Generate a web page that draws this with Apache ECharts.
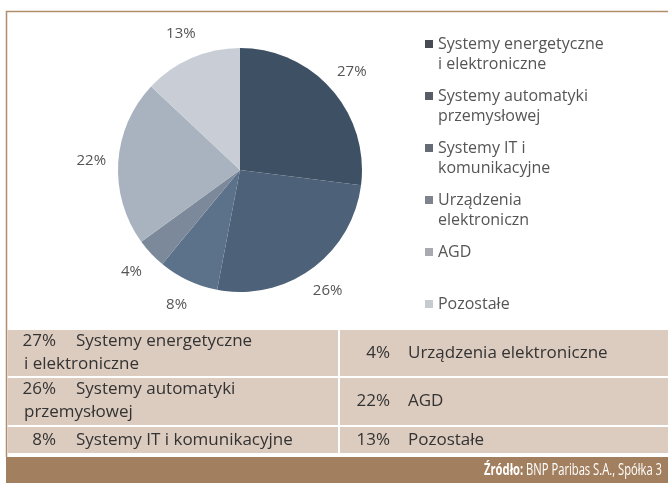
<!DOCTYPE html>
<html>
<head>
<meta charset="utf-8">
<script src="https://cdn.jsdelivr.net/npm/echarts@6/dist/echarts.min.js"></script>
<style>
  html, body { margin: 0; padding: 0; background: #fff; }
  #chart { width: 668px; height: 483px; }
</style>
</head>
<body>
<div id="chart"></div>
<script>
// dane
const categories = [
  "Systemy energetyczne i elektroniczne",
  "Systemy automatyki przemysłowej",
  "Systemy IT i komunikacyjne",
  "Urządzenia elektroniczne",
  "AGD",
  "Pozostałe"
];
const values = [27, 26, 8, 4, 22, 13];
const legendLabels = [
  "Systemy energetyczne\ni elektroniczne",
  "Systemy automatyki\nprzemysłowej",
  "Systemy IT i\nkomunikacyjne",
  "Urządzenia\nelektroniczn",
  "AGD\n",
  "Pozostałe\n"
];
const tableLines = [
  ["Systemy energetyczne", "i elektroniczne"],
  ["Systemy automatyki", "przemysłowej"],
  ["Systemy IT i komunikacyjne"],
  ["Urządzenia elektroniczne"],
  ["AGD"],
  ["Pozostałe"]
];
const sourceLabel = "Źródło:";
const sourceText = "BNP Paribas S.A., Spółka 3";

const sliceColors = ["#3e5064", "#4d6178", "#5c718a", "#7b899b", "#a9b3bf", "#c9ced6"];
const legendColors = ["#474c54", "#575d66", "#646b75", "#7e848d", "#a7abb1", "#c7cace"];
const font = "Open Sans";

let myChart = echarts.init(document.getElementById("chart"));

// tabela pod wykresem
const rowTop = [330, 378, 427];
const rowH = [46, 47, 26];
const colX = [7.5, 340];
const colW = [330.5, 328];
const pctRight = [56, 390];
const labelX = [76, 408];

let graphics = [
  {
    type: "polyline",
    shape: { points: [[6.5, 457], [6.5, 11.5], [668, 11.5]] },
    style: { stroke: "#b08d6b", lineWidth: 1.5, fill: null }
  },
  {
    type: "rect",
    shape: { x: 6, y: 457, width: 662, height: 26 },
    style: { fill: "#a27f5f" }
  },
  {
    // stopka - waski krój, wiec sciskamy w poziomie
    type: "text",
    x: 662,
    y: 470,
    scaleX: 0.7,
    style: {
      text: "{b|" + sourceLabel + "} " + sourceText,
      align: "right",
      verticalAlign: "middle",
      fill: "#fff",
      font: "16px '" + font + "'",
      rich: { b: { fontWeight: "bold", fontSize: 16, fontFamily: font, fill: "#fff" } }
    }
  }
];

for (let c = 0; c < 2; c++) {
  for (let r = 0; r < 3; r++) {
    graphics.push({
      type: "rect",
      shape: { x: colX[c], y: rowTop[r], width: colW[c], height: rowH[r] },
      style: { fill: "#dccbbf" }
    });
    let i = c * 3 + r;
    let lines = tableLines[i];
    let y1 = lines.length > 1 ? rowTop[r] + 11 : rowTop[r] + rowH[r] / 2;
    let txt = { fill: "#333", font: "17px '" + font + "'", verticalAlign: "middle" };
    graphics.push({
      type: "text", x: pctRight[c], y: y1,
      style: Object.assign({ text: values[i] + "%", align: "right" }, txt)
    });
    graphics.push({
      type: "text", x: labelX[c], y: y1,
      style: Object.assign({ text: lines[0], align: "left" }, txt)
    });
    if (lines.length > 1) {
      graphics.push({
        type: "text", x: 24, y: rowTop[r] + 34,
        style: Object.assign({ text: lines[1], align: "left" }, txt)
      });
    }
  }
}

let pieData = categories.map((name, i) => {
  return { name: name, value: values[i], itemStyle: { color: sliceColors[i] } };
});

myChart.setOption({
  animation: false,
  backgroundColor: "#fff",
  legend: {
    orient: "vertical",
    left: 420,
    top: 29,
    itemWidth: 8,
    itemHeight: 40,
    itemGap: 12,
    selectedMode: false,
    icon: "path://M0,6H8V14H0Z M0,0H0.01V0.01H0Z M0,40H0.01V40.01H0Z",
    textStyle: { fontFamily: font, fontSize: 16, color: "#555", lineHeight: 20 },
    data: categories.map((name, i) => ({ name: name, itemStyle: { color: legendColors[i] } })),
    formatter: function(name) {
      return legendLabels[categories.indexOf(name)];
    }
  },
  graphic: graphics,
  series: [
    {
      name: "udział",
      type: "pie",
      center: [240, 170],
      radius: 122,
      startAngle: 90,
      clockwise: true,
      label: { show: false },
      labelLine: { show: false },
      data: pieData
    },
    {
      // pierścień tylko dla etykiet procentowych
      name: "etykiety",
      type: "pie",
      center: [240, 170],
      radius: [122, 170],
      startAngle: 90,
      clockwise: true,
      silent: true,
      legendHoverLink: false,
      itemStyle: { color: "rgba(0,0,0,0)" },
      label: {
        position: "inside",
        formatter: "{c}%",
        color: "#555",
        fontSize: 15,
        fontFamily: font
      },
      labelLine: { show: false },
      data: categories.map((name, i) => ({ name: name, value: values[i] }))
    }
  ]
});
</script>
</body>
</html>
